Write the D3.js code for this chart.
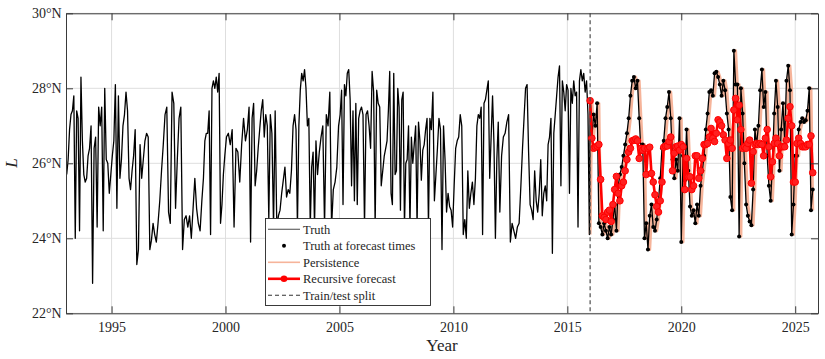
<!DOCTYPE html>
<html>
<head>
  <meta charset="UTF-8">
  <title>L truth vs forecast</title>
  <style>
    body { margin: 0; background: #fff; }
    svg { display: block; font-family: "Liberation Serif", "DejaVu Serif", serif; }
  </style>
</head>
<body>
<div class="svg-zone"></div>
<script src="https://d3js.org/d3.v7.min.js"></script>
<script>
// training period: one row of samples per calendar year, starting 1993
var trainStart = 1993;
var trainTruth = [
  [25.7, 26.1, 26.9, 27.3, 27.4, 27.8, 24.0, 27.4, 27.2, 24.2, 28.3, 26.6, 25.7, 25.5, 25.6, 26.2],
  [26.4, 27.0, 22.8, 26.4, 26.7, 24.3, 27.5, 27.0, 27.5, 24.2, 28.0, 26.1, 26.0, 25.2, 25.7],
  [26.2, 26.6, 28.1, 24.8, 27.8, 25.6, 26.1, 27.0, 27.3, 27.9, 27.4, 25.6, 25.3, 25.8, 26.2],
  [26.9, 23.3, 23.7, 26.5, 25.6, 26.1, 26.6, 26.8, 26.7, 23.7, 23.95, 24.4, 24.1, 23.9],
  [24.4, 25.0, 25.8, 26.5, 27.3, 27.5, 24.7, 24.4, 27.9, 27.6, 24.8, 26.1, 27.2],
  [27.5, 23.7, 24.5, 24.6, 24.3, 24.6, 24.0, 24.8, 25.6, 24.8, 24.4, 24.2, 25.0],
  [25.6, 26.6, 26.8, 26.8, 27.4, 24.1, 28.0, 28.2, 28.0, 28.3, 27.9, 28.4, 24.4, 24.9, 25.7, 26.2],
  [26.7, 26.8, 26.5, 26.9, 24.3, 26.4, 26.3, 25.5, 26.5, 27.2, 26.6, 26.9],
  [27.5, 23.9, 27.2, 27.6, 25.4, 25.8, 26.4, 26.9, 27.4, 27.7, 26.7, 27.3, 27.0, 24.5, 27.3],
  [26.8, 24.3, 27.4, 24.3, 24.6, 24.75, 25.2, 25.55, 25.9, 25.1, 25.3, 25.2, 25.8, 27.0],
  [27.3, 26.9, 24.3, 27.0, 27.95, 28.4, 28.2, 28.5, 28.0, 27.0, 27.2, 24.3, 25.9, 26.3, 24.3, 26.6],
  [25.7, 26.3, 26.7, 27.0, 24.3, 27.3, 27.0, 27.9, 24.3, 25.3, 25.5, 25.9, 27.0],
  [27.3, 27.95, 24.9, 28.1, 27.8, 28.4, 28.5, 27.7, 25.4, 27.4, 25.0, 27.6, 24.9, 27.2, 27.4, 27.5],
  [27.3, 24.3, 27.3, 27.4, 27.0, 26.4, 28.45, 27.9, 24.3, 27.95, 27.6, 27.5, 25.4, 25.8, 26.2],
  [26.4, 26.6, 27.4, 28.45, 25.2, 24.9, 28.4, 25.7, 25.8, 28.0, 27.5, 24.75, 27.7, 27.9, 24.3, 26.0, 26.1],
  [27.0, 24.3, 26.7, 26.0, 26.5, 27.0, 24.3, 27.1, 26.6, 25.55, 26.35, 26.5, 26.9, 27.2, 24.3, 27.2],
  [26.9, 27.9, 25.0, 25.7, 26.4, 27.2, 26.9, 23.7, 27.0, 26.1, 24.7, 25.2, 24.85, 24.75, 24.3],
  [25.4, 26.4, 26.6, 26.7, 27.3, 27.0, 24.1, 24.5, 24.0, 25.8, 24.8, 25.2, 25.5, 24.9, 25.6],
  [27.0, 27.3, 27.2, 27.5, 24.1, 27.6, 27.7, 27.95, 28.2, 25.6, 26.7, 27.8, 26.5, 24.0, 26.1, 27.1],
  [24.7, 26.2, 26.7, 26.8, 27.1, 27.3, 23.9, 24.4, 24.2, 24.0, 24.3, 24.4, 25.4],
  [26.4, 27.2, 28.0, 28.1, 26.3, 24.9, 24.75, 24.5, 25.8, 25.0, 24.7, 25.2, 26.1, 24.6, 25.2],
  [25.4, 25.0, 26.5, 26.7, 27.2, 23.6, 26.8, 27.3, 27.8, 28.3, 28.6, 25.4, 28.2, 27.9, 27.4, 28.1],
  [27.95, 25.2, 28.0, 27.6, 28.2, 27.8, 27.9, 24.3, 28.2, 28.5, 28.2, 28.4, 27.9, 28.2, 27.3, 24.1]
];

// test period: forecast times every 4 weeks from the split
var testStart = 2016;
var testStep = 1 / 13;
var testTruth = [
  27.7, 26.7, 27.3, 27.0, 27.6, 24.4, 24.3, 24.1, 24.4, 24.2,
  24.0, 24.3, 24.1, 24.5, 24.9, 24.2, 25.4, 25.7, 25.9, 26.2,
  26.5, 26.8, 27.2, 27.8, 28.2, 28.3, 28.0, 28.2, 27.2, 26.3,
  26.5, 24.0, 24.4, 23.7, 24.6, 24.9, 24.3, 24.2, 24.5, 25.0,
  25.6, 26.4, 26.6, 27.2, 27.5, 27.9, 27.2, 26.1, 25.6, 26.1,
  25.8, 27.2, 23.9, 26.2, 25.55, 26.9, 25.8, 24.85, 24.6, 24.75,
  24.4, 24.9, 24.6, 25.4, 25.8, 26.2, 26.9, 27.33, 27.9, 27.95,
  27.8, 28.4, 28.44, 28.3, 28.1, 27.8, 28.2, 27.95, 27.33, 26.9,
  25.1, 24.75, 29.0, 28.1, 28.1, 24.05, 28.0, 27.33, 26.0, 24.9,
  24.6, 24.45, 24.35, 25.3, 26.9, 26.5, 27.0, 27.95, 28.5, 27.5,
  27.9, 26.2, 25.4, 25.0, 26.0, 27.33, 28.2, 27.5, 25.8, 26.9,
  27.6, 26.6, 28.2, 28.6, 27.95, 24.1, 24.9, 26.2, 26.2, 26.9,
  27.1, 27.2, 27.1, 27.15, 27.4, 28.0, 24.75, 25.3
];
var forecast = [
  27.67, 26.67, 26.4, 26.43, 26.46, 26.5, 25.57, 24.6, 24.56, 24.5,
  24.7, 24.75, 24.45, 24.9, 25.3, 25.65, 25.2, 25.0, 25.4, 25.5,
  25.8, 26.1, 26.3, 26.4, 26.6, 26.62, 26.65, 26.6, 26.13, 26.4,
  26.35, 26.4, 25.7, 26.4, 26.43, 25.73, 25.5, 25.16, 24.85, 24.7,
  25.0, 25.5, 26.43, 26.46, 26.46, 26.58, 26.7, 25.8, 26.27, 26.44,
  26.46, 26.35, 26.5, 26.44, 25.3, 26.13, 25.64, 25.64, 25.3, 25.4,
  26.2, 26.2, 25.6, 25.8, 26.13, 26.5, 26.5, 26.53, 26.7, 26.93,
  26.67, 26.58, 26.8, 27.16, 27.1, 27.0, 26.76, 26.62, 26.13, 26.53,
  26.62, 26.4, 27.42, 27.73, 27.16, 27.55, 26.9, 26.4, 26.44, 26.4,
  26.53, 26.62, 25.47, 26.31, 26.5, 26.53, 26.5, 26.53, 26.5, 26.2,
  26.67, 26.9, 26.44, 25.64, 26.04, 26.53, 26.67, 26.53, 26.2, 26.44,
  26.44, 26.44, 26.62, 27.2, 27.51, 27.0, 25.5, 25.5, 26.53, 26.67,
  26.53, 26.44, 26.44, 26.44, 26.5, 26.5, 26.73, 25.75
];

var xTicks = [1995, 2000, 2005, 2010, 2015, 2020, 2025];
var yTicks = [22, 24, 26, 28, 30];
var legendLabels = ["Truth", "Truth at forecast times", "Persistence", "Recursive forecast", "Train/test split"];

var width = 825, height = 359;
var plotL = 66, plotR = 818, plotT = 13.3, plotB = 313.3;

var x = d3.scaleLinear().domain([1993, 2026]).range([plotL, plotR]);
var y = d3.scaleLinear().domain([22, 30]).range([plotB, plotT]);

// build the points
var trainPts = [];
trainTruth.forEach(function (row, k) {
  var yr = trainStart + k;
  var span = Math.min(1, testStart - yr);
  row.forEach(function (v, j) {
    trainPts.push({ t: yr + (j + 0.5) / row.length * span, v: v });
  });
});
var testPts = testTruth.map(function (v, i) { return { t: testStart + i * testStep, v: v }; });
var fcPts = forecast.map(function (v, i) { return { t: testStart + i * testStep, v: v }; });
// persistence = last observed truth carried to the next forecast time
var persPts = testPts.map(function (d, i) {
  var prev = i === 0 ? trainPts[trainPts.length - 1].v : testTruth[i - 1];
  return { t: d.t, v: prev };
});
var truthPts = trainPts.concat(testPts);

var svg = d3.select(".svg-zone").append("svg")
  .attr("width", width)
  .attr("height", height);

svg.append("rect").attr("width", width).attr("height", height).attr("fill", "#fff");

// grid
var grid = svg.append("g").attr("stroke", "#dedede").attr("stroke-width", 1);
grid.selectAll(".gx").data(xTicks).enter().append("line")
  .attr("x1", function (d) { return x(d); }).attr("x2", function (d) { return x(d); })
  .attr("y1", plotT).attr("y2", plotB);
grid.selectAll(".gy").data(yTicks).enter().append("line")
  .attr("y1", function (d) { return y(d); }).attr("y2", function (d) { return y(d); })
  .attr("x1", plotL).attr("x2", plotR);

svg.append("clipPath").attr("id", "plot")
  .append("rect").attr("x", plotL).attr("y", plotT).attr("width", plotR - plotL).attr("height", plotB - plotT);

var line = d3.line().x(function (d) { return x(d.t); }).y(function (d) { return y(d.v); });
var plot = svg.append("g").attr("clip-path", "url(#plot)");

plot.append("path").datum(persPts)
  .attr("d", line).attr("fill", "none")
  .attr("stroke", "#f5a788").attr("stroke-opacity", 0.85).attr("stroke-width", 3)
  .attr("stroke-linejoin", "round");

plot.append("path").datum(truthPts)
  .attr("d", line).attr("fill", "none")
  .attr("stroke", "#000").attr("stroke-width", 1.3)
  .attr("stroke-linejoin", "round");

plot.selectAll(".dot").data(testPts).enter().append("circle")
  .attr("cx", function (d) { return x(d.t); })
  .attr("cy", function (d) { return y(d.v); })
  .attr("r", 2).attr("fill", "#000");

plot.append("path").datum(fcPts)
  .attr("d", line).attr("fill", "none")
  .attr("stroke", "#ff0000").attr("stroke-width", 2.6)
  .attr("stroke-linejoin", "round");

plot.selectAll(".fc").data(fcPts).enter().append("circle")
  .attr("cx", function (d) { return x(d.t); })
  .attr("cy", function (d) { return y(d.v); })
  .attr("r", 3.3).attr("fill", "#ff2020").attr("stroke", "#ff0000").attr("stroke-width", 1);

// train/test split
svg.append("line")
  .attr("x1", x(testStart)).attr("x2", x(testStart))
  .attr("y1", plotT).attr("y2", plotB)
  .attr("stroke", "#4d4d4d").attr("stroke-width", 1.2)
  .attr("stroke-dasharray", "4,3");

// axes, ticks inside on all four sides
function styleAxis(g) {
  g.selectAll("path, line").attr("stroke", "#3a3a3a").attr("stroke-width", 1);
  g.selectAll("text").attr("fill", "#262626").style("font-size", "14px")
    .style("font-family", "'Liberation Serif', 'DejaVu Serif', serif");
}
svg.append("g").attr("transform", "translate(0," + plotB + ")")
  .call(d3.axisBottom(x).tickValues(xTicks).tickSize(-7).tickSizeOuter(0).tickPadding(8.3).tickFormat(d3.format("d")))
  .call(styleAxis);
svg.append("g").attr("transform", "translate(0," + plotT + ")")
  .call(d3.axisTop(x).tickValues(xTicks).tickSize(-7).tickSizeOuter(0).tickFormat(""))
  .call(styleAxis);
svg.append("g").attr("transform", "translate(" + plotL + ",0)")
  .call(d3.axisLeft(y).tickValues(yTicks).tickSize(-7).tickSizeOuter(0).tickPadding(4.3)
    .tickFormat(function (d) { return d + "\u00B0N"; }))
  .call(styleAxis);
svg.append("g").attr("transform", "translate(" + plotR + ",0)")
  .call(d3.axisRight(y).tickValues(yTicks).tickSize(-7).tickSizeOuter(0).tickFormat(""))
  .call(styleAxis);

// axis labels
svg.append("text").attr("x", (plotL + plotR) / 2).attr("y", 351)
  .attr("text-anchor", "middle").attr("fill", "#262626").style("font-size", "17px")
  .text("Year");
svg.append("text").attr("transform", "translate(17,163) rotate(-90)")
  .attr("text-anchor", "middle").attr("fill", "#262626")
  .style("font-size", "17px").style("font-style", "italic")
  .text("L");

// legend
var lg = svg.append("g");
lg.append("rect").attr("x", 265.5).attr("y", 218.5).attr("width", 165).attr("height", 87)
  .attr("fill", "#fff").attr("stroke", "#262626").attr("stroke-width", 0.9);
var rowY = function (k) { return 229.3 + k * 16.5; };
lg.selectAll(".lt").data(legendLabels).enter().append("text")
  .attr("x", 303).attr("y", function (d, k) { return rowY(k); })
  .attr("dy", "0.35em").attr("fill", "#262626").style("font-size", "12.5px")
  .text(function (d) { return d; });
lg.append("line").attr("x1", 268).attr("x2", 300).attr("y1", rowY(0)).attr("y2", rowY(0))
  .attr("stroke", "#000").attr("stroke-opacity", 0.6).attr("stroke-width", 1.2);
lg.append("circle").attr("cx", 284).attr("cy", rowY(1)).attr("r", 2).attr("fill", "#000");
lg.append("line").attr("x1", 268).attr("x2", 300).attr("y1", rowY(2)).attr("y2", rowY(2))
  .attr("stroke", "#f5a788").attr("stroke-opacity", 0.85).attr("stroke-width", 1.6);
lg.append("line").attr("x1", 268).attr("x2", 300).attr("y1", rowY(3)).attr("y2", rowY(3))
  .attr("stroke", "#ff0000").attr("stroke-width", 2.6);
lg.append("circle").attr("cx", 284).attr("cy", rowY(3)).attr("r", 3.3).attr("fill", "#ff0000");
lg.append("line").attr("x1", 268).attr("x2", 300).attr("y1", rowY(4)).attr("y2", rowY(4))
  .attr("stroke", "#333").attr("stroke-width", 1.1).attr("stroke-dasharray", "4,3");
</script>
</body>
</html>
